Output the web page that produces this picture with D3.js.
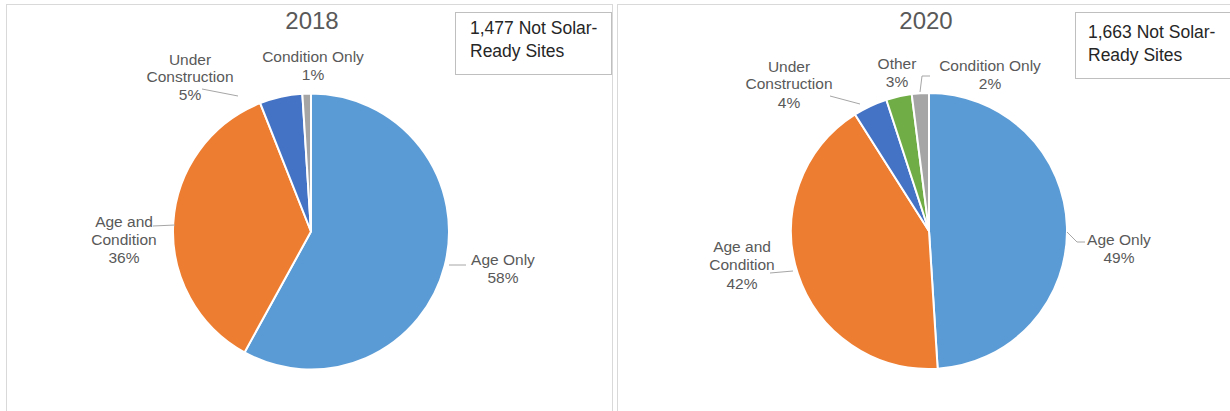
<!DOCTYPE html>
<html><head><meta charset="utf-8">
<script src="https://cdn.jsdelivr.net/npm/d3@7"></script>
<style>body{margin:0;background:#fff}svg{display:block}</style>
</head><body>
<svg id="c" width="1230" height="411"></svg>
<script>
const categories2018 = ["Age Only","Age and Condition","Under Construction","Condition Only"];
const values2018 = [58,36,5,1];
const categories2020 = ["Age Only","Age and Condition","Under Construction","Other","Condition Only"];
const values2020 = [49,42,4,3,2];
const titles = ["2018","2020"];
const notes = [["1,477 Not Solar-","Ready Sites"],["1,663 Not Solar-","Ready Sites"]];

const colorMap = {"Age Only":"#5B9BD5","Age and Condition":"#ED7D31","Under Construction":"#4472C4","Condition Only":"#A5A5A5","Other":"#70AD47"};

const svg = d3.select("#c");
// panels
svg.append("rect").attr("x",6.5).attr("y",4.5).attr("width",606).attr("height",420).attr("fill","none").attr("stroke","#d9d9d9");
svg.append("rect").attr("x",617.5).attr("y",4.5).attr("width",620).attr("height",420).attr("fill","none").attr("stroke","#d9d9d9");

const panels = [
  {cx:311, cy:231.5, r:138, titleX:312, box:{x:455.5,y:12.5,w:156,h:62}, textX:470, textY:[34,57],
   cats:categories2018, vals:values2018,
   labels:{
     "Age Only":{x:503,y:[265,283],line:[[449,265],[466,265]]},
     "Age and Condition":{x:124,y:[227,245,263],line:[[153,226],[175,225]]},
     "Under Construction":{x:190,y:[65,82,100],line:[[202,89],[238,96]]},
     "Condition Only":{x:313,y:[62,80],line:null}
   }},
  {cx:929, cy:231, r:138, titleX:926, box:{x:1075.5,y:12.5,w:160,h:66}, textX:1088, textY:[38,61],
   cats:categories2020, vals:values2020,
   labels:{
     "Age Only":{x:1119,y:[245,263],line:[[1067,232],[1077,242],[1085,242]]},
     "Age and Condition":{x:742,y:[252,270,289],line:[[770,273],[793,271]]},
     "Under Construction":{x:789,y:[72,89,108],line:[[830,96],[860,104]]},
     "Other":{x:897,y:[69,87],line:null},
     "Condition Only":{x:990,y:[71,89],line:[[930,76],[922,76],[920,92]]}
   }}
];

const pie = d3.pie().sort(null).value(d=>d.v);

panels.forEach((p,i)=>{
  const g = svg.append("g");
  g.append("text").attr("x",p.titleX).attr("y",29).attr("text-anchor","middle")
    .attr("font-family","Liberation Sans, Arial, sans-serif").attr("font-size",24).attr("fill","#595959").text(titles[i]);
  const data = p.cats.map((c,k)=>({c, v:p.vals[k]}));
  const arc = d3.arc().innerRadius(0).outerRadius(p.r);
  g.append("g").attr("transform",`translate(${p.cx},${p.cy})`)
    .selectAll("path").data(pie(data)).join("path")
    .attr("d",arc).attr("fill",d=>colorMap[d.data.c]).attr("stroke","#fff").attr("stroke-width",2);
  data.forEach(d=>{
    const L = p.labels[d.c];
    if(L.line){
      g.append("path").attr("d",d3.line()(L.line)).attr("fill","none").attr("stroke","#a6a6a6").attr("stroke-width",1);
    }
    const words = d.c==="Age and Condition" ? ["Age and","Condition"] : d.c==="Under Construction" ? ["Under","Construction"] : [d.c];
    const lines = words.concat([d.v+"%"]);
    lines.forEach((t,k)=>{
      g.append("text").attr("x",L.x).attr("y",L.y[k]).attr("text-anchor","middle")
        .attr("font-family","Liberation Sans, Arial, sans-serif").attr("font-size",15.5).attr("fill","#595959").text(t);
    });
  });
  g.append("rect").attr("x",p.box.x).attr("y",p.box.y).attr("width",p.box.w).attr("height",p.box.h)
    .attr("fill","#fff").attr("stroke","#bfbfbf");
  notes[i].forEach((t,k)=>{
    g.append("text").attr("x",p.textX).attr("y",p.textY[k])
      .attr("font-family","Liberation Sans Narrow, Arial Narrow, sans-serif").attr("font-size",17.5).attr("fill","#262626").text(t);
  });
});
</script>
</body></html>
